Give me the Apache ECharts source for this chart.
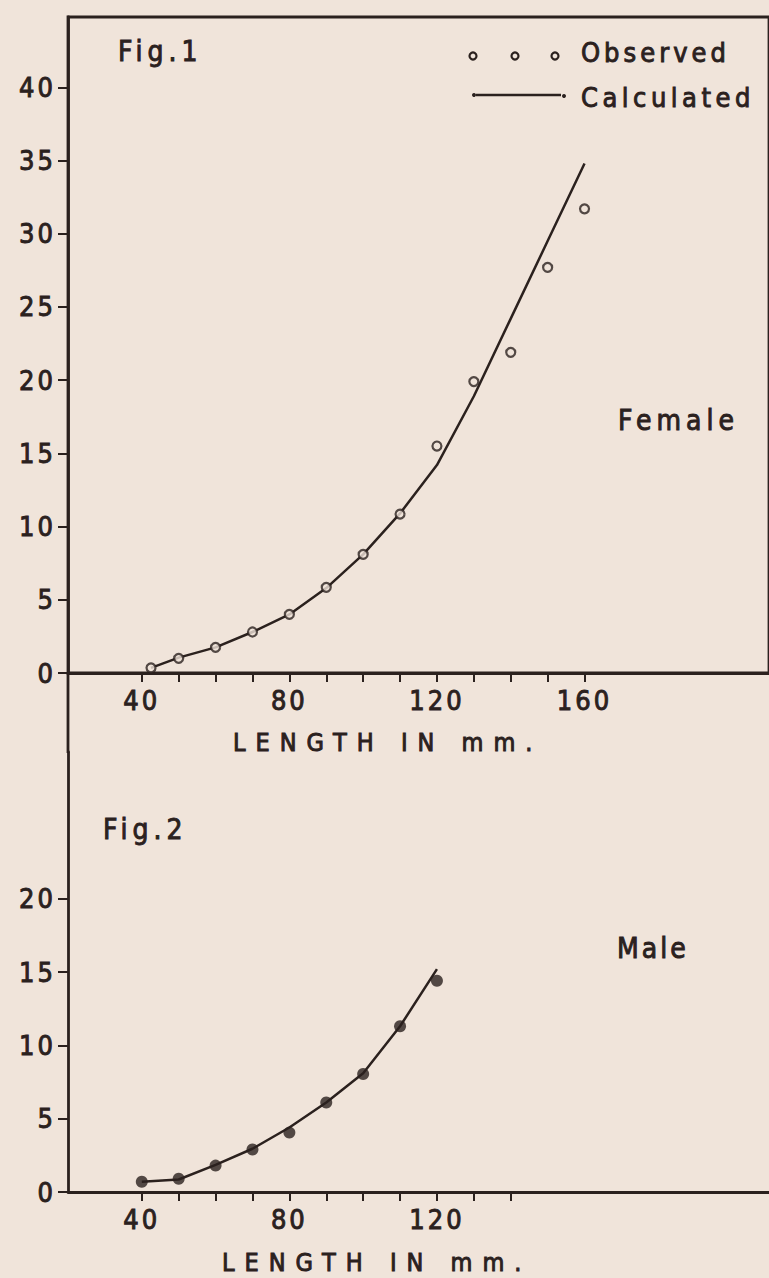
<!DOCTYPE html>
<html>
<head>
<meta charset="utf-8">
<script src="https://cdn.jsdelivr.net/npm/echarts@6/dist/echarts.min.js"></script>
<style>
html, body { margin: 0; padding: 0; background: #f0e4da; }
#main { width: 769px; height: 1278px; }
#main text { letter-spacing: 3px; }
</style>
</head>
<body>
<div id="main"></div>
<script>
// ---- data ----
const femaleLength   = [42.5, 50, 60, 70, 80, 90, 100, 110, 120, 130, 140, 150, 160];
const femaleObserved = [0.35, 1.0, 1.75, 2.8, 4.0, 5.85, 8.1, 10.85, 15.5, 19.9, 21.9, 27.7, 31.7];
const femaleCalc     = [0.35, 1.05, 1.75, 2.8, 4.0, 5.8, 8.1, 10.9, 14.2, 18.9, 24.2, 29.5, 34.8];

const maleLength     = [40, 50, 60, 70, 80, 90, 100, 110, 120];
const maleObserved   = [0.7, 0.9, 1.8, 2.9, 4.05, 6.1, 8.05, 11.3, 14.4];
const maleCalc       = [0.7, 0.85, 1.85, 2.95, 4.4, 6.1, 8.1, 11.3, 15.2];

const xTicks1  = [40, 50, 60, 70, 80, 90, 100, 110, 120, 130, 140, 150, 160];
const xLabels1 = [40, 80, 120, 160];
const yTicks1  = [0, 5, 10, 15, 20, 25, 30, 35, 40];
const xTicks2  = [40, 50, 60, 70, 80, 90, 100, 110, 120, 130, 140];
const xLabels2 = [40, 80, 120];
const yTicks2  = [0, 5, 10, 15, 20];

const xTitle = 'LENGTH IN mm.';
const fig1Title = 'Fig.1';
const fig2Title = 'Fig.2';
const femaleTitle = 'Female';
const maleTitle = 'Male';
const observedName = 'Observed';
const calculatedName = 'Calculated';

// ---- styling ----
const INK = '#2b211e';
const BG = '#f0e4da';
const FONT = 'DejaVu Sans Condensed';
const TB = 0.9; // text stroke to mimic the heavier lettering

const zip = (xs, ys) => xs.map((x, i) => [x, ys[i]]);

function xAxisDef(gridIndex, ticks, labels) {
  return {
    type: 'value', gridIndex, min: 20, max: 210,
    axisLine: { show: true, lineStyle: { color: INK, width: 2.8 } },
    axisTick: { show: true, customValues: ticks, length: 9, lineStyle: { color: INK, width: 2 } },
    axisLabel: { customValues: labels, color: INK, fontFamily: FONT, fontSize: 27, margin: 14,
      textBorderColor: INK, textBorderWidth: TB },
    splitLine: { show: false }
  };
}
function yAxisDef(gridIndex, max, ticks) {
  return {
    type: 'value', gridIndex, min: 0, max,
    axisLine: { show: true, lineStyle: { color: INK, width: 2.8 } },
    axisTick: { show: true, customValues: ticks, length: 10, lineStyle: { color: INK, width: 2 } },
    axisLabel: { customValues: ticks, color: INK, fontFamily: FONT, fontSize: 27, margin: 12,
      textBorderColor: INK, textBorderWidth: TB },
    splitLine: { show: false }
  };
}
function txt(text, x, y, size) {
  return { type: 'text', x, y, silent: true,
    style: { text, fill: INK, stroke: INK, lineWidth: TB, font: size + 'px "' + FONT + '"',
      verticalAlign: 'middle', align: 'left' } };
}

const chart = echarts.init(document.getElementById('main'), null, { renderer: 'svg' });
chart.setOption({
  animation: false,
  backgroundColor: BG,
  grid: [
    { left: 68, top: 17, width: 703, height: 656, show: true, borderColor: INK, borderWidth: 2.8, backgroundColor: 'transparent' },
    { left: 68, top: 752, width: 703, height: 440 }
  ],
  xAxis: [ xAxisDef(0, xTicks1, xLabels1), xAxisDef(1, xTicks2, xLabels2) ],
  yAxis: [ yAxisDef(0, 44.8, yTicks1), yAxisDef(1, 30, yTicks2) ],
  series: [
    { name: calculatedName, type: 'line', xAxisIndex: 0, yAxisIndex: 0, data: zip(femaleLength, femaleCalc),
      showSymbol: false, lineStyle: { color: INK, width: 2.5 }, z: 2 },
    { name: observedName, type: 'scatter', xAxisIndex: 0, yAxisIndex: 0, data: zip(femaleLength, femaleObserved),
      symbol: 'circle', symbolSize: 9, itemStyle: { color: BG, borderColor: INK, borderWidth: 2.2 }, z: 3 },
    { name: calculatedName, type: 'line', xAxisIndex: 1, yAxisIndex: 1, data: zip(maleLength, maleCalc),
      showSymbol: false, lineStyle: { color: INK, width: 2.5 }, z: 2 },
    { name: observedName, type: 'scatter', xAxisIndex: 1, yAxisIndex: 1, data: zip(maleLength, maleObserved),
      symbol: 'circle', symbolSize: 12, itemStyle: { color: INK }, z: 3 }
  ],
  graphic: [
    { type: 'line', silent: true, shape: { x1: 68, y1: 672, x2: 68, y2: 753 }, style: { stroke: INK, lineWidth: 2.8 } },
    // legend glyphs
    { type: 'circle', silent: true, shape: { cx: 473, cy: 56, r: 3.5 }, style: { fill: BG, stroke: INK, lineWidth: 2.2 } },
    { type: 'circle', silent: true, shape: { cx: 515, cy: 56, r: 3.5 }, style: { fill: BG, stroke: INK, lineWidth: 2.2 } },
    { type: 'circle', silent: true, shape: { cx: 555, cy: 56, r: 3.5 }, style: { fill: BG, stroke: INK, lineWidth: 2.2 } },
    { type: 'line', silent: true, shape: { x1: 476, y1: 95, x2: 561, y2: 95 }, style: { stroke: INK, lineWidth: 2.5 } },
    { type: 'circle', silent: true, shape: { cx: 474, cy: 95, r: 2 }, style: { fill: INK } },
    { type: 'circle', silent: true, shape: { cx: 564, cy: 96, r: 2 }, style: { fill: INK } },
    txt(fig1Title, 118, 51, 28),
    txt(observedName, 581, 52, 27),
    txt(calculatedName, 581, 97, 27),
    txt(femaleTitle, 618, 420, 28),
    txt(xTitle, 233, 742, 25),
    txt(fig2Title, 103, 829, 28),
    txt(maleTitle, 617, 948, 28),
    txt(xTitle, 222, 1262, 25)
  ]
});

const spacing = { 'LENGTH IN mm.': '10px', 'Fig.1': '5px', 'Fig.2': '5px', 'Female': '5px', 'Male': '3px', 'Observed': '4px', 'Calculated': '4.5px' };
function applySpacing() {
  document.querySelectorAll('#main text').forEach(t => {
    const s = spacing[t.textContent.trim()];
    if (s) t.style.letterSpacing = s;
  });
}
chart.on('finished', applySpacing);
applySpacing();
setTimeout(applySpacing, 50);
</script>
</body>
</html>
